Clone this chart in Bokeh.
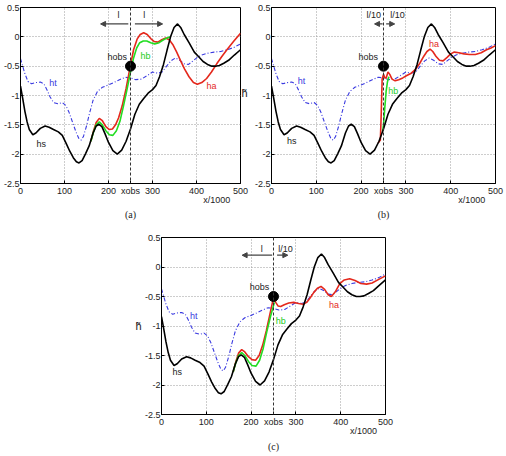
from bokeh.plotting import figure
from bokeh.layouts import column, row
from bokeh.models import (Range1d, FixedTicker, Label, Span, Arrow,
                          NormalHead, Spacer, LinearAxis, Title)
from bokeh.embed import file_html
from bokeh.resources import INLINE

# observation point
xobs = [250]
hobs = [-0.5]

# reference (truth) profile ht, dash-dot blue
ht_x = [0, 5, 10, 17, 25, 35, 45, 53, 60, 67, 75, 85, 95, 103, 110, 118, 126,
        133, 138, 143, 150, 157, 165, 175, 186, 200, 212, 225, 238, 250, 262,
        275, 288, 300, 312, 322, 332, 342, 352, 362, 372, 382, 392, 402, 412,
        425, 440, 455, 470, 485, 500]
ht_y = [-0.37, -0.5, -0.63, -0.76, -0.8, -0.78, -0.77, -0.8, -0.9, -1.02,
        -1.12, -1.14, -1.12, -1.17, -1.28, -1.45, -1.62, -1.74, -1.76, -1.7,
        -1.52, -1.3, -1.08, -0.93, -0.86, -0.82, -0.78, -0.73, -0.69, -0.7,
        -0.73, -0.72, -0.66, -0.6, -0.62, -0.6, -0.5, -0.41, -0.36, -0.4,
        -0.46, -0.47, -0.41, -0.35, -0.31, -0.28, -0.26, -0.25, -0.22, -0.18,
        -0.12]

# initial profile hs, black
hs_x = [0, 5, 10, 15, 20, 28, 35, 45, 56, 65, 75, 86, 95, 104, 112, 120, 127,
        133, 140, 148, 156, 165, 172, 178, 185, 192, 200, 210, 220, 230, 240,
        250, 260, 270, 280, 290, 300, 308, 316, 325, 333, 341, 349, 357, 364,
        372, 383, 395, 405, 415, 425, 435, 443, 452, 462, 473, 486, 500]
hs_y = [-0.84, -1.05, -1.27, -1.45, -1.58, -1.67, -1.64, -1.56, -1.52, -1.54,
        -1.58, -1.62, -1.68, -1.82, -1.95, -2.06, -2.13, -2.15, -2.11, -1.99,
        -1.86, -1.64, -1.52, -1.49, -1.53, -1.65, -1.8, -1.94, -2.0, -1.93,
        -1.78, -1.57, -1.32, -1.15, -1.05, -0.96, -0.9, -0.83, -0.68, -0.47,
        -0.23, 0.0, 0.16, 0.22, 0.16, 0.04, -0.1, -0.26, -0.34, -0.42, -0.47,
        -0.5, -0.5, -0.49, -0.45, -0.4, -0.31, -0.22]

# panel (a): window l on both sides
ha_a_x = [160, 166, 172, 179, 186, 194, 202, 209, 216, 223, 231, 240, 249, 257,
          265, 272, 280, 288, 296, 304, 312, 321, 330, 338, 346, 355, 364, 373,
          383, 393, 402, 412, 423, 434, 446, 458, 470, 485, 500]
ha_a_y = [-1.78, -1.6, -1.46, -1.39, -1.43, -1.53, -1.58, -1.57, -1.5, -1.38,
          -1.18, -0.88, -0.52, -0.22, -0.04, 0.04, 0.07, 0.04, -0.03, -0.08,
          -0.09, -0.05, -0.02, -0.05, -0.13, -0.26, -0.41, -0.55, -0.68, -0.78,
          -0.81, -0.78, -0.71, -0.6, -0.46, -0.33, -0.21, -0.07, 0.06]
hb_a_x = [160, 166, 172, 179, 186, 194, 202, 210, 218, 226, 234, 242, 250, 257,
          264, 271, 279, 287, 296, 305, 315, 325, 333, 341]
hb_a_y = [-1.78, -1.62, -1.5, -1.45, -1.5, -1.6, -1.67, -1.68, -1.6, -1.44,
          -1.18, -0.9, -0.6, -0.36, -0.19, -0.1, -0.07, -0.07, -0.1, -0.12,
          -0.1, -0.05, -0.02, 0.0]

# panel (b): window l/10 on both sides
ha_b_x = [238, 243, 245, 247, 250, 253, 256, 260, 264, 269, 276, 284, 293, 302,
          312, 322, 331, 340, 347, 354, 360, 367, 375, 383, 392, 400, 408, 418,
          430, 442, 455, 468, 480, 490, 500]
ha_b_y = [-1.81, -1.76, -1.3, -0.72, -0.64, -0.7, -0.7, -0.6, -0.64, -0.72,
          -0.75, -0.73, -0.7, -0.66, -0.62, -0.55, -0.45, -0.33, -0.25, -0.21,
          -0.25, -0.33, -0.4, -0.41, -0.35, -0.29, -0.26, -0.27, -0.29, -0.3,
          -0.3, -0.27, -0.22, -0.19, -0.15]
hb_b_x = [248, 250, 253, 256, 259, 262]
hb_b_y = [-1.61, -1.5, -1.2, -0.92, -0.76, -0.68]

# panel (c): window l upstream, l/10 downstream
ha_c_x = [160, 166, 172, 179, 186, 194, 202, 210, 218, 226, 234, 242, 250, 255,
          260, 266, 274, 284, 295, 306, 316, 324, 332, 340, 348, 356, 364, 372,
          379, 388, 398, 408, 420, 432, 445, 458, 470, 485, 500]
ha_c_y = [-1.78, -1.6, -1.46, -1.4, -1.44, -1.52, -1.57, -1.58, -1.5, -1.32,
          -1.08, -0.8, -0.52, -0.6, -0.66, -0.67, -0.64, -0.61, -0.6, -0.62,
          -0.63, -0.6, -0.52, -0.43, -0.36, -0.33, -0.38, -0.47, -0.5, -0.42,
          -0.28, -0.22, -0.2, -0.23, -0.28, -0.29, -0.27, -0.21, -0.15]
hb_c_x = [160, 166, 172, 179, 186, 194, 202, 211, 219, 227, 235, 243, 252]
hb_c_y = [-1.78, -1.62, -1.5, -1.45, -1.5, -1.6, -1.67, -1.68, -1.58, -1.38,
          -1.1, -0.85, -0.6]

x_ticks = [0, 100, 200, 300, 400, 500]
y_ticks = [-2.5, -2, -1.5, -1, -0.5, 0, 0.5]
y_tick_labels = ["-2.5", "-2", "-1.5", "-1", "-0.5", "0", "0.5"]

FONT = "Liberation Sans"
RED = "#e4281c"
GREEN = "#22dd22"
BLUE = "#3a3ae0"
GREY = "#444444"
TXT = "#222222"
HTILDE = "h\u0303"


def lbl(p, x, y, text, color=TXT):
    p.add_layout(Label(x=x, y=y, text=text, text_color=color,
                       text_font=FONT, text_font_size="9px",
                       text_align="center", text_baseline="middle"))


def arrow(p, x0, x1, y):
    p.add_layout(Arrow(x_start=x0, y_start=y, x_end=x1, y_end=y,
                       line_color=GREY, line_width=1.2,
                       end=NormalHead(size=5, fill_color=GREY,
                                      line_color=GREY)))


def bare_axis(ticks, labels, standoff, size):
    """An axis that only carries text labels (no line, no ticks)."""
    return LinearAxis(ticker=FixedTicker(ticks=ticks),
                      major_label_overrides=dict(zip(ticks, labels)),
                      axis_line_color=None, major_tick_line_color=None,
                      minor_tick_line_color=None, major_tick_in=0,
                      major_tick_out=0, major_label_standoff=standoff,
                      major_label_text_font=FONT,
                      major_label_text_font_size=size,
                      major_label_text_color=TXT)


def panel(ha_x, ha_y, hb_x, hb_y, width, height, left, right, top,
          caption, cap_standoff, xlabel_at, ylabel):
    p = figure(width=width, height=height, output_backend="svg",
               toolbar_location=None, x_range=Range1d(0, 500),
               y_range=Range1d(-2.5, 0.5), min_border_left=left,
               min_border_right=right, min_border_top=top,
               min_border_bottom=42,
               background_fill_color="white", border_fill_color="white")
    p.outline_line_color = "black"
    p.outline_line_alpha = 1.0
    # tick labels, with the observation position named on the x axis
    p.xaxis.ticker = FixedTicker(ticks=x_ticks + xobs)
    p.xaxis.major_label_overrides = {xobs[0]: "xobs"}
    p.yaxis.ticker = FixedTicker(ticks=y_ticks)
    p.yaxis.major_label_overrides = dict(zip(y_ticks, y_tick_labels))
    p.xgrid.ticker = FixedTicker(ticks=x_ticks)
    for ax in (p.xaxis[0], p.yaxis[0]):
        ax.axis_line_color = "black"
        ax.major_tick_in = 3
        ax.major_tick_out = 0
        ax.minor_tick_line_color = None
        ax.major_tick_line_color = "black"
        ax.major_label_text_font = FONT
        ax.major_label_text_font_size = "9px"
        ax.major_label_text_color = TXT
    p.xaxis[0].major_label_standoff = 2
    p.yaxis[0].major_label_standoff = 1
    p.grid.grid_line_color = "#9a9a9a"
    p.grid.grid_line_dash = "1 2"
    p.grid.grid_line_width = 1

    # x/1000 under the tick labels, h~ next to a y axis
    p.add_layout(bare_axis([xlabel_at], ["x/1000"], -4, "9px"), "below")
    if ylabel is not None:
        side, yv, standoff = ylabel
        p.add_layout(bare_axis([yv], [HTILDE], standoff, "11px"), side)
    p.add_layout(Title(text=caption, align="center",
                       text_font="Liberation Serif", text_font_size="10px",
                       text_font_style="normal", text_color=TXT,
                       standoff=cap_standoff), "below")

    p.add_layout(Span(location=xobs[0], dimension="height",
                      line_color="#333333", line_dash="3 2", line_width=1))

    p.line(ht_x, ht_y, line_color=BLUE, line_width=1.1,
           line_dash="4 2 1 2")
    p.line(ha_x, ha_y, line_color=RED, line_width=1.6)
    p.line(hb_x, hb_y, line_color=GREEN, line_width=1.6)
    p.line(hs_x, hs_y, line_color="black", line_width=1.6)
    p.scatter(xobs, hobs, size=10, color="black")
    return p


# (a)
pa = panel(ha_a_x, ha_a_y, hb_a_x, hb_a_y, 250, 225, 18, 8, 7, "(a)", -1,
           446, ("right", -0.95, 1))
arrow(pa, 245, 182, 0.22)
arrow(pa, 260, 323, 0.22)
lbl(pa, 223, 0.37, "l")
lbl(pa, 281, 0.37, "l")
lbl(pa, 220, -0.34, "hobs")
lbl(pa, 74, -0.79, "ht", color=BLUE)
lbl(pa, 47, -1.83, "hs")
lbl(pa, 284, -0.33, "hb", color="#22cc22")
lbl(pa, 434, -0.84, "ha", color=RED)

# (b)
pb = panel(ha_b_x, ha_b_y, hb_b_x, hb_b_y, 256, 225, 21, 11, 7, "(b)", -1,
           447, None)
arrow(pb, 248, 230, 0.22)
arrow(pb, 256, 275, 0.22)
lbl(pb, 228, 0.37, "l/10")
lbl(pb, 281, 0.37, "l/10")
lbl(pb, 216, -0.34, "hobs")
lbl(pb, 67, -0.76, "ht", color=BLUE)
lbl(pb, 45, -1.78, "hs")
lbl(pb, 272, -0.92, "hb", color="#22cc22")
lbl(pb, 363, -0.13, "ha", color=RED)

# (c)
pc = panel(ha_c_x, ha_c_y, hb_c_x, hb_c_y, 267, 231, 32, 11, 12, "(c)", 1,
           451, ("left", -1.0, 0))
arrow(pc, 247, 180, 0.2)
arrow(pc, 258, 282, 0.2)
lbl(pc, 224, 0.3, "l")
lbl(pc, 277, 0.3, "l/10")
lbl(pc, 219, -0.34, "hobs")
lbl(pc, 72, -0.83, "ht", color=BLUE)
lbl(pc, 35, -1.78, "hs")
lbl(pc, 266, -0.92, "hb", color="#22cc22")
lbl(pc, 385, -0.64, "ha", color=RED)

layout = column(row(pa, pb), row(Spacer(width=129, height=231), pc))

open("out.html", "w").write(file_html(layout, INLINE))
